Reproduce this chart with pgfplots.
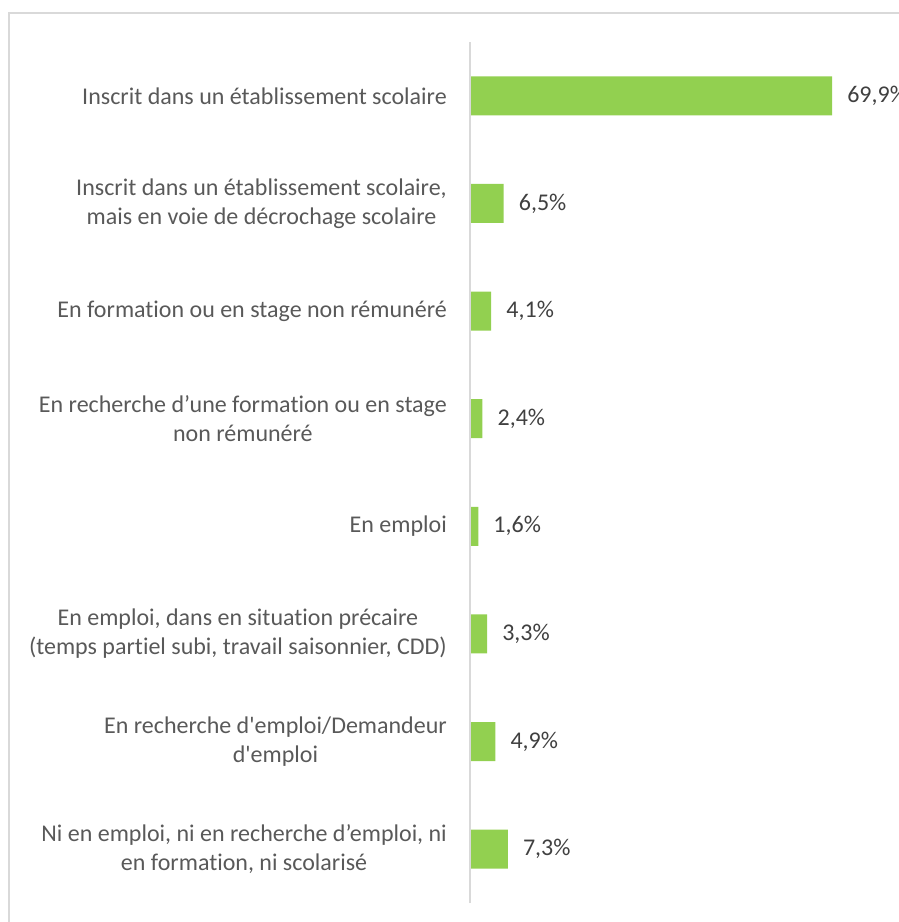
\documentclass[border=0pt]{standalone}
\usepackage{fontspec}
\setmainfont{Carlito}[Ligatures={TeX,NoCommon}]
\usepackage{pgfplots}
\pgfplotsset{compat=1.18}
\definecolor{bargreen}{HTML}{92D050}
\definecolor{labgray}{HTML}{595959}
\definecolor{valgray}{HTML}{404040}
\definecolor{linegray}{HTML}{D9D9D9}
\begin{document}
\begin{tikzpicture}
\begin{axis}[
  at={(470bp,19bp)}, anchor=south west,
  scale only axis,
  width=414.4bp, height=861bp,
  xmin=0, xmax=80,
  ymin=0.5, ymax=8.5,
  y dir=reverse,
  xbar, bar width=39bp,
  axis line style={draw=none},
  xtick=\empty,
  ytick={1,2,3,4,5,6,7,8},
  major tick length=0pt,
  yticklabels={
    {Inscrit dans un établissement scolaire},
    {Inscrit dans un établissement scolaire,\\mais en voie de décrochage scolaire},
    {En formation ou en stage non rémunéré},
    {En recherche d’une formation ou en stage\\non rémunéré},
    {En emploi},
    {En emploi, dans en situation précaire\\(temps partiel subi, travail saisonnier, CDD)},
    {En recherche d\textquotesingle emploi/Demandeur\\d\textquotesingle emploi},
    {Ni en emploi, ni en recherche d’emploi, ni\\en formation, ni scolarisé}
  },
  yticklabel style={font=\fontsize{24bp}{29bp}\selectfont, text=labgray, align=center, inner sep=0pt, xshift=-23bp},
  point meta=x,
  nodes near coords={\pgfmathprintnumber[fixed,fixed zerofill,precision=1,use comma,assume math mode=true]{\pgfplotspointmeta}\%},
  nodes near coords style={font=\fontsize{24bp}{29bp}\selectfont, text=valgray, anchor=west, inner sep=0pt, xshift=15bp},
  clip=false,
]
\addplot[fill=bargreen, draw=none] coordinates {
  (69.9,1) (6.5,2) (4.1,3) (2.4,4) (1.6,5) (3.3,6) (4.9,7) (7.3,8)
};
\draw[linegray, line width=2bp] (rel axis cs:0,0) -- (rel axis cs:0,1);
\end{axis}
\draw[linegray, line width=2bp] (8.5bp,-30bp) -- (8.5bp,909bp) -- (960bp,909bp);
\pgfresetboundingbox
\path[use as bounding box] (0,0) rectangle (899bp,922bp);
\end{tikzpicture}
\end{document}
